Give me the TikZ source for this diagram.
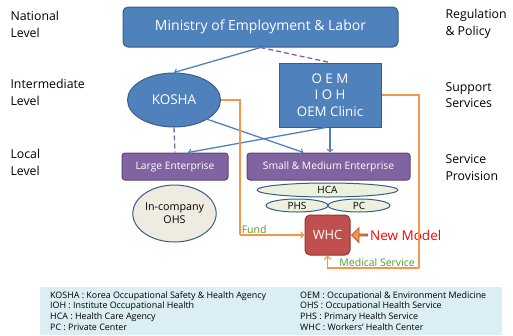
\documentclass[tikz,border=0pt]{standalone}
\usepackage{fontspec}
\setmainfont{Open Sans}
\usetikzlibrary{positioning,shapes.geometric,shapes.arrows,calc}
\definecolor{boxblue}{HTML}{4F81BD}
\definecolor{lineblue}{HTML}{385D8A}
\definecolor{boxpurple}{HTML}{8064A2}
\definecolor{linepurple}{HTML}{5C4776}
\definecolor{boxred}{HTML}{C0504D}
\definecolor{linered}{HTML}{8C3836}
\definecolor{paleback}{HTML}{EEECE1}
\definecolor{palegreen}{HTML}{EBF1DE}
\definecolor{fundorange}{HTML}{F79646}
\definecolor{textgreen}{HTML}{4E9A2A}
\definecolor{legendback}{HTML}{DAEEF3}
\newcommand{\drawlevel}{\node[anchor=north west, align=left, font=\fontsize{12.3}{16.5}\selectfont]}
\newcommand{\drawrole}{\node[anchor=north west, align=left, font=\fontsize{12.3}{16.5}\selectfont]}
\newcommand{\drawkey}{\node[anchor=west, inner sep=0, font=\fontsize{8.9}{10}\selectfont]}
\tikzset{
  bluebox/.style={draw=lineblue, fill=boxblue, line width=1pt, text=white, align=center},
  purplebox/.style={draw=linepurple, fill=boxpurple, line width=1pt, rounded corners=3pt, text=white, font=\fontsize{10.3}{12}\selectfont},
  paleoval/.style={draw=lineblue, fill=palegreen, ellipse, line width=1pt, inner sep=0, font=\fontsize{10}{11}\selectfont},
  linkarrow/.style={draw=boxblue, line width=1.3pt, ->},
  linkdash/.style={draw=boxpurple, line width=1.3pt, dash pattern=on 5pt off 3pt},
  fundline/.style={draw=fundorange, line width=1.6pt},
  greenlabel/.style={text=textgreen, inner sep=1pt, font=\fontsize{10.5}{12}\selectfont}
}
\begin{document}
\begin{tikzpicture}[x=1pt, y=-1pt]
\useasboundingbox (0,0) rectangle (513,335);
%legend at the bottom
\fill[legendback] (40,287) rectangle (502,335);
\drawkey (k1) at (50,296) {KOSHA : Korea Occupational Safety \& Health Agency};
\drawkey (k2) at (50,306.5) {IOH : Institute Occupational Health};
\drawkey (k3) at (50,317) {HCA : Health Care Agency};
\drawkey (k4) at (50,327.5) {PC : Private Center};
\drawkey (k5) at (300,296) {OEM : Occupational \& Environment Medicine};
\drawkey (k6) at (300,306.5) {OHS : Occupational Health Service};
\drawkey (k7) at (300,317) {PHS : Primary Health Service};
\drawkey (k8) at (300,327.5) {WHC : Workers' Health Center};

%levels and roles
\drawlevel (national) at (7,8) {National\\Level};
\drawlevel (intermediate) at (7,76) {Intermediate\\Level};
\drawlevel (local) at (7,146) {Local\\Level};
\drawrole (regulation) at (442,6) {Regulation\\\& Policy};
\drawrole (support) at (442,79) {Support\\Services};
\drawrole (provision) at (442,151) {Service\\Provision};

%boxes
\node[bluebox, rounded corners=5pt, minimum width=275, minimum height=40, font=\fontsize{14}{16}\selectfont] (ministry) at (260.5,27) {Ministry of Employment \& Labor};
\node[bluebox, ellipse, minimum width=93, minimum height=54, inner sep=0, font=\fontsize{13.5}{15}\selectfont] (kosha) at (174,100) {KOSHA};
\node[bluebox, minimum width=102, minimum height=64, inner sep=0, font=\fontsize{13.3}{16.5}\selectfont] (oem) at (330,95) {O E M\\I O H\\OEM Clinic};
\node[purplebox, minimum width=106, minimum height=27] (large) at (175,166.5) {Large Enterprise};
\node[purplebox, minimum width=163, minimum height=27] (sme) at (328.5,166.5) {Small \& Medium Enterprise};
\node[paleoval, minimum width=141, minimum height=14] (hca) at (327.5,190) {HCA};
\node[paleoval, minimum width=62, minimum height=13] (phs) at (297,205.5) {PHS};
\node[paleoval, minimum width=62, minimum height=13] (pc) at (359,205.5) {PC};
\node[paleoval, fill=paleback, minimum width=77, minimum height=57, align=center, font=\fontsize{10.7}{13}\selectfont] (ohs) at (174.5,213.5) {In-company\\OHS};
\node[draw=linered, fill=boxred, line width=1pt, rounded corners=5pt, minimum width=45, minimum height=40, text=white, font=\fontsize{12.8}{14}\selectfont] (whc) at (327.5,235) {WHC};
\node[single arrow, shape border rotate=180, draw=linered!70!fundorange, fill=fundorange, line width=0.8pt, minimum height=16, minimum width=15, single arrow head extend=3pt, inner sep=0] (newarrow) at (360,235) {};
\node[right=2pt of newarrow, inner sep=0, text=red, font=\fontsize{13.5}{15}\selectfont] (newmodel) {New Model};

%links
\draw[linkarrow] (ministry.south) -- (kosha.north);
\draw[linkdash] (ministry.south) -- (oem.north);
\draw[linkdash] (kosha.south) -- (large.north);
\draw[linkarrow] (kosha.-30) -- ($(sme.north)+(-25,0)$);
\draw[linkarrow] (oem.south) -- (oem.south |- sme.north);
\draw[linkarrow] ($(oem.south)+(-4,0)$) -- ($(large.north)+(13,0)$);

%fund and medical service
\coordinate (fundbend) at (240,235);
\coordinate (medbend) at (419,268);
\draw[fundline] (kosha.east) -| (fundbend);
\draw[fundline, ->] (fundbend) -- node[pos=0, anchor=south west, greenlabel] {Fund} (whc.west);
\draw[fundline] (oem.east) -| (medbend);
\draw[fundline, ->] (medbend) -| (whc.south);
\node[anchor=south east, greenlabel, xshift=-3pt] (medlabel) at (medbend) {Medical Service};
\end{tikzpicture}
\end{document}
